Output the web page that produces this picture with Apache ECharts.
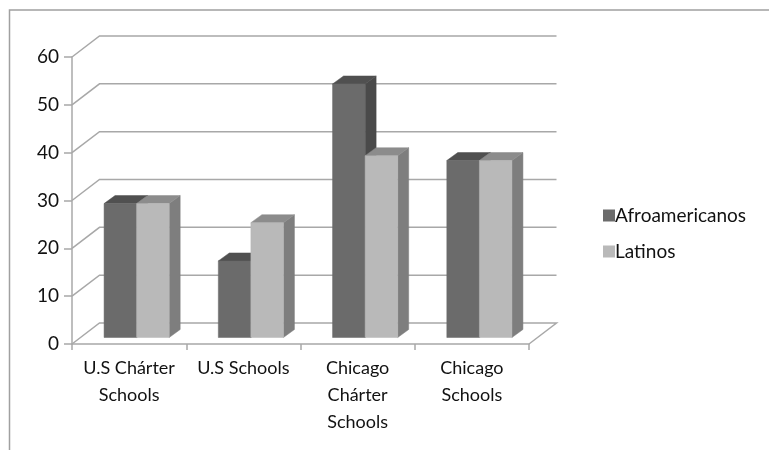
<!DOCTYPE html>
<html><head><meta charset="utf-8">
<style>html,body{margin:0;padding:0;background:#fff}#c{width:769px;height:450px}</style>
<script src="https://cdn.jsdelivr.net/npm/echarts@6/dist/echarts.min.js"></script>
</head><body><div id="c"></div>
<script>
const categories = ['U.S Chárter\nSchools', 'U.S Schools', 'Chicago\nChárter\nSchools', 'Chicago\nSchools'];
const afroamericanos = [28, 16, 53, 37];
const latinos = [28, 24, 38, 37];
const yTicks = [0, 10, 20, 30, 40, 50, 60];

const FONT = 'Lato, "Open Sans", sans-serif';
const WALL = [27.5, -21], BAR_SHIFT = [7.5, -6.5], BAR_DEPTH = [11, -8];
const LINE = '#a8a8a8';

function wallItem(params, api) {
  const p = api.coord([0, api.value(0)]);
  const g = params.coordSys;
  const x0 = g.x, x1 = g.x + g.width, y = p[1];
  const pts = [[x0, y], [x0 + WALL[0], y + WALL[1]], [x1 + WALL[0], y + WALL[1]]];
  if (api.value(0) === 0) pts.push([x1, y]);
  return { type: 'polyline', shape: { points: pts },
    style: { stroke: LINE, lineWidth: 1.5, fill: null } };
}
function barSeries(name, values, offset, front, top, side) {
  return {
    name, type: 'custom', z: 3, clip: false,
    data: values.map((v, i) => [i, v]),
    encode: { x: 0, y: 1 },
    itemStyle: { color: front },
    renderItem(params, api) {
      const i = api.value(0), v = api.value(1);
      const t = api.coord([i, v]), b = api.coord([i, 0]);
      const w = api.size([1, 0])[0] * 0.285;
      const xl = t[0] + BAR_SHIFT[0] + offset * w, xr = xl + w;
      const yt = t[1] + BAR_SHIFT[1], yb = b[1] + BAR_SHIFT[1];
      const [dx, dy] = BAR_DEPTH;
      const poly = (pts, fill) => ({ type: 'polygon', shape: { points: pts },
        style: { fill, stroke: fill, lineWidth: 0.5 } });
      return { type: 'group', children: [
        poly([[xr, yt], [xr + dx, yt + dy], [xr + dx, yb + dy], [xr, yb]], side),
        poly([[xl, yt], [xl + dx, yt + dy], [xr + dx, yt + dy], [xr, yt]], top),
        poly([[xl, yt], [xr, yt], [xr, yb], [xl, yb]], front)
      ] };
    }
  };
}

const chart = echarts.init(document.getElementById('c'), null, { renderer: 'canvas' });
chart.setOption({
  animation: false,
  backgroundColor: '#fff',
  graphic: [{ type: 'polyline', silent: true, z: 0,
    shape: { points: [[9.5, 450], [9.5, 10], [769, 10]] },
    style: { stroke: '#a0a0a0', lineWidth: 1.5, fill: null } }],
  grid: { left: 72, right: 240, top: 57, bottom: 106 },
  legend: {
    orient: 'vertical', left: 598, top: 201, itemWidth: 12, itemHeight: 12, itemGap: 17,
    icon: 'rect',
    textStyle: { fontFamily: FONT, fontSize: 19, color: '#111', padding: [0, 0, 0, -5] },
    data: ['Afroamericanos', 'Latinos']
  },
  xAxis: {
    type: 'category', data: categories,
    axisLine: { lineStyle: { color: LINE, width: 1.5 } },
    axisTick: { show: true, length: 6, alignWithLabel: false, lineStyle: { color: LINE, width: 1.5 } },
    axisLabel: { fontFamily: FONT, fontSize: 18, color: '#111', lineHeight: 27, margin: 11, interval: 0 }
  },
  yAxis: {
    type: 'value', min: 0, max: 60, interval: 10,
    splitLine: { show: false },
    axisLine: { show: true, lineStyle: { color: LINE, width: 1.5 } },
    axisTick: { show: true, length: 8, lineStyle: { color: LINE, width: 1.5 } },
    axisLabel: { fontFamily: FONT, fontSize: 19, color: '#111', margin: 13,
      formatter: v => yTicks.includes(v) ? String(v) : '' }
  },
  series: [
    { type: 'custom', name: 'wall', z: 1, clip: false, silent: true,
      data: yTicks.map(v => [v]), encode: { y: 0 }, renderItem: wallItem },
    barSeries('Afroamericanos', afroamericanos, -1, '#6b6b6b', '#505050', '#4a4a4a'),
    barSeries('Latinos', latinos, 0, '#b9b9b9', '#8c8c8c', '#7e7e7e')
  ]
});
</script></body></html>
